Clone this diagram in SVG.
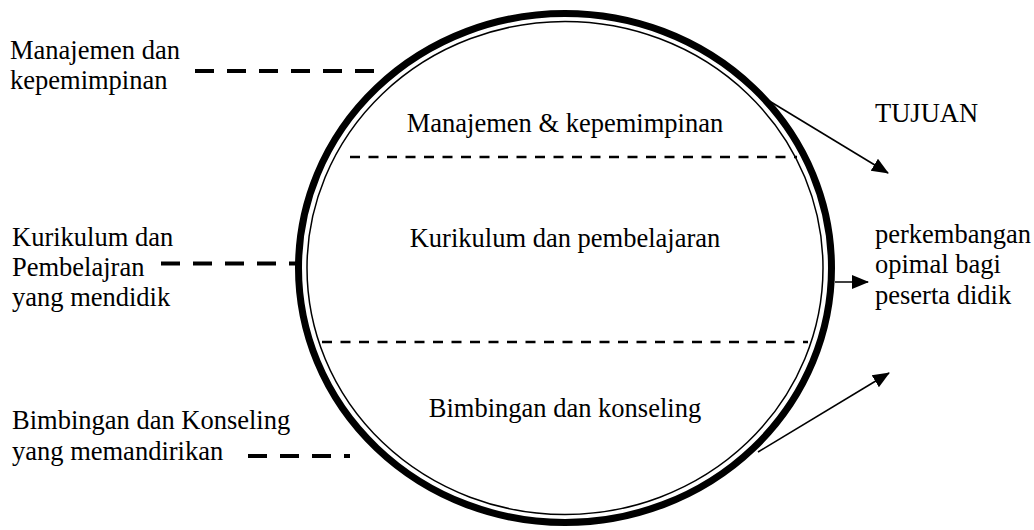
<svg xmlns="http://www.w3.org/2000/svg" width="1034" height="530" viewBox="0 0 1034 530" font-family="'Liberation Serif', 'Times New Roman', serif">
<style>
text{font-family:'Liberation Serif','Times New Roman',serif;font-size:26.5px;fill:#000}
.c{text-anchor:middle}
.ext{stroke:#000;stroke-width:4;fill:none;stroke-dasharray:19 13}
.int{stroke:#000;stroke-width:2.5;fill:none;stroke-dasharray:10 8.5}
.arr{stroke:#000;stroke-width:1.6;fill:none;marker-end:url(#ah)}
</style>
<defs>
<marker id="ah" markerUnits="userSpaceOnUse" markerWidth="18" markerHeight="16" refX="16" refY="7" orient="auto" viewBox="0 0 18 14">
<path d="M0,0 L17,7 L0,14 Z" fill="#000"/>
</marker>
</defs>
<rect width="1034" height="530" fill="#fff"/>
<g id="circle">
<ellipse cx="565" cy="268" rx="266.5" ry="254.5" fill="none" stroke="#000" stroke-width="7"/>
<ellipse cx="565" cy="268" rx="258" ry="246.5" fill="none" stroke="#000" stroke-width="1.5"/>
</g>
<g id="connectors">
<line class="int" x1="350" y1="157" x2="797" y2="157"/>
<line class="int" x1="322" y1="342" x2="808" y2="342"/>
<line class="ext" x1="195" y1="71" x2="374" y2="71"/>
<line class="ext" x1="161" y1="263.5" x2="296" y2="263.5"/>
<line class="ext" x1="248" y1="456" x2="350" y2="456"/>
<line class="arr" x1="766" y1="99" x2="888" y2="173"/>
<line class="arr" x1="835" y1="282" x2="868" y2="282"/>
<line class="arr" x1="758" y1="452" x2="889" y2="373"/>
</g>
<g id="node-manajemen-inner"><text class="c" x="565" y="132">Manajemen &amp; kepemimpinan</text></g>
<g id="node-kurikulum-inner"><text class="c" x="565" y="247">Kurikulum dan pembelajaran</text></g>
<g id="node-bimbingan-inner"><text class="c" x="565" y="417">Bimbingan dan konseling</text></g>
<g id="node-manajemen-outer"><text x="10" y="59">Manajemen dan</text><text x="10" y="89">kepemimpinan</text></g>
<g id="node-kurikulum-outer"><text x="12" y="246">Kurikulum dan</text><text x="12" y="276">Pembelajran</text><text x="12" y="306">yang mendidik</text></g>
<g id="node-bimbingan-outer"><text x="12" y="429">Bimbingan dan Konseling</text><text x="12" y="460">yang memandirikan</text></g>
<g id="node-tujuan"><text x="875" y="122">TUJUAN</text></g>
<g id="node-perkembangan"><text x="875" y="243">perkembangan</text><text x="875" y="273">opimal bagi</text><text x="875" y="304">peserta didik</text></g>
</svg>
